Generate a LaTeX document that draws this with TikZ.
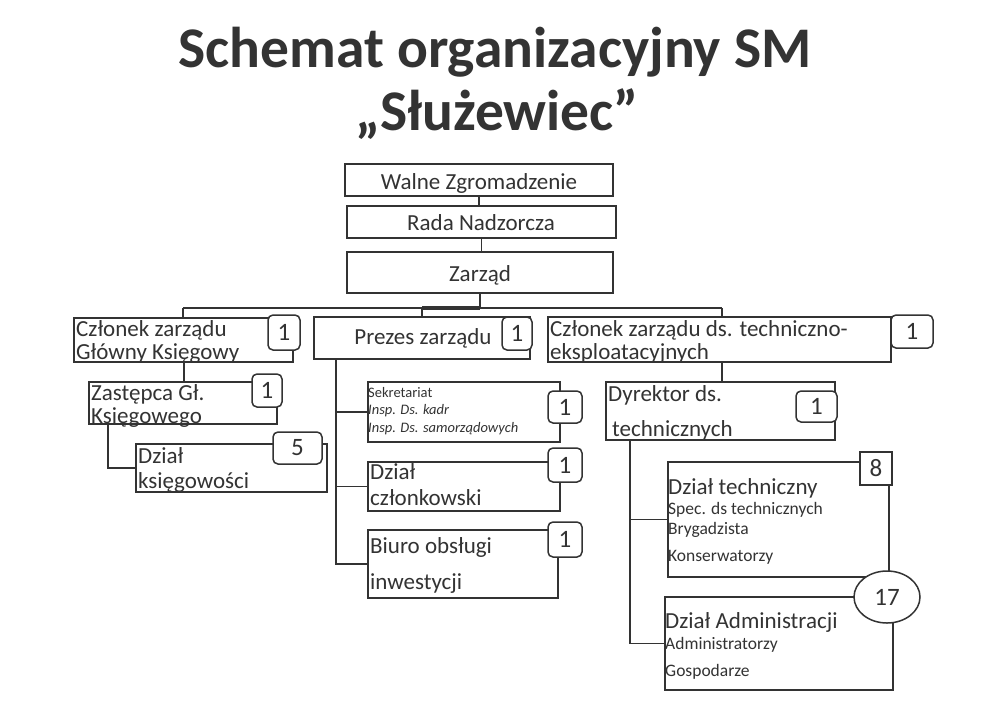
\documentclass[tikz,border=0pt]{standalone}
\usepackage{fontspec}
\setmainfont{Carlito}
\usetikzlibrary{fit,calc,shapes.geometric}
\definecolor{ink}{gray}{0.2}
\tikzset{
  box/.style={draw=ink, line width=1.5pt, inner sep=0pt},
  badge/.style={draw=ink, line width=1.5pt, rounded corners=5pt, fill=white, inner sep=0pt},
  conn/.style={draw=ink, line width=1.5pt},
  lbl/.style={anchor=base west, inner sep=0pt, text=ink, font=\fontsize{23}{25}\selectfont},
  clbl/.style={anchor=base, inner sep=0pt, text=ink, font=\fontsize{23}{25}\selectfont},
  small/.style={anchor=base west, inner sep=0pt, text=ink, font=\fontsize{17.5}{19}\selectfont},
  tiny/.style={anchor=base west, inner sep=0pt, text=ink, font=\fontsize{14.5}{16}\selectfont},
  num/.style={text=ink, font=\fontsize{25}{27}\selectfont},
}
\begin{document}
\begin{tikzpicture}[x=1pt,y=-1pt]
\useasboundingbox (0,0) rectangle (1000,713);
\fill[white] (0,0) rectangle (1000,713);
% title
\node[anchor=base, inner sep=0pt, text=ink, font=\fontsize{57.5}{60}\bfseries] (t1) at (495,67) {Schemat organizacyjny SM};
\node[anchor=base, inner sep=0pt, text=ink, font=\fontsize{57.5}{60}\bfseries] (t2) at (497,130) {„Służewiec”};

% top boxes
\node[box, fit={(345,164) (613,196)}] (wz) {};
\node[clbl] at (479,189) {Walne Zgromadzenie};
\node[box, fit={(347,206) (616,238)}] (rn) {};
\node[clbl] at (481,230) {Rada Nadzorcza};
\node[box, fit={(347,252) (613,293)}] (zr) {};
\node[clbl] at (480,281) {Zarząd};

% level 2
\node[box, fit={(74,318) (293,362)}] (czg) {};
\node[lbl] at (76,336) {Członek zarządu};
\node[lbl] at (76,359) {Główny Księgowy};
\node[badge, fit={(268,315) (300,350)}] (bczg) {};
\node[num] at (bczg.center) {1};

\node[box, fit={(314,317) (530,359)}] (prz) {};
\node[clbl] at (423,344) {Prezes zarządu};
\node[badge, fit={(502,317) (532,350)}] (bprz) {};
\node[num] at (bprz.center) {1};

\node[box, fit={(548,317) (891,362)}] (czt) {};
\node[lbl] at (550,336) {Członek zarządu ds. techniczno-};
\node[lbl] at (550,359) {eksploatacyjnych};
\node[badge, fit={(891,315) (933,348)}] (bczt) {};
\node[num] at (bczt.center) {1};

% left branch
\node[box, fit={(89,382) (277,424)}] (zas) {};
\node[lbl] at (91,400) {Zastępca Gł.};
\node[lbl] at (91,423) {Księgowego};
\node[badge, fit={(252,374) (282,407)}] (bzas) {};
\node[num] at (bzas.center) {1};

\node[box, fit={(136,444) (327,492)}] (dk) {};
\node[lbl] at (138,463) {Dział};
\node[lbl] at (138,488) {księgowości};
\node[badge, fit={(273,432) (322,464)}] (bdk) {};
\node[num] at (bdk.center) {5};

% middle branch
\node[box, fit={(368,382) (560,442)}] (sek) {};
\node[tiny] at (368,397) {Sekretariat};
\node[tiny, font=\fontsize{14.5}{16}\itshape] at (368,414) {Insp. Ds. kadr};
\node[tiny, font=\fontsize{14.5}{16}\itshape] at (368,432) {Insp. Ds. samorządowych};
\node[badge, fit={(548,391) (582,423)}] (bsek) {};
\node[num] at (bsek.center) {1};

\node[box, fit={(368,462) (560,511)}] (dcz) {};
\node[lbl] at (370,479) {Dział};
\node[lbl] at (370,505) {członkowski};
\node[badge, fit={(548,448) (582,482)}] (bdcz) {};
\node[num] at (bdcz.center) {1};

\node[box, fit={(368,530) (558,598)}] (bio) {};
\node[lbl] at (370,553) {Biuro obsługi};
\node[lbl] at (370,589) {inwestycji};
\node[badge, fit={(548,522) (582,557)}] (bbio) {};
\node[num] at (bbio.center) {1};

% right branch
\node[box, fit={(606,382) (835,440)}] (dyr) {};
\node[lbl] at (608,401) {Dyrektor ds.};
\node[lbl] at (612,436) {technicznych};
\node[badge, fit={(796,391) (837,422)}] (bdyr) {};
\node[num] at (bdyr.center) {1};

\node[box, fit={(668,462) (889,577)}] (dt) {};
\node[lbl] at (668,494) {Dział techniczny};
\node[small] at (668,514) {Spec. ds technicznych};
\node[small] at (668,534) {Brygadzista};
\node[small] at (668,561) {Konserwatorzy};
\node[draw=ink, line width=1.5pt, fill=white, inner sep=0pt, fit={(860,452) (892,485)}] (bdt) {};
\node[num] at (bdt.center) {8};

\node[box, fit={(665,597) (893,690)}] (da) {};
\node[lbl] at (665,628) {Dział Administracji};
\node[small] at (665,649) {Administratorzy};
\node[small] at (665,676) {Gospodarze};
\node[draw=ink, line width=1.5pt, fill=white, ellipse, minimum width=66pt, minimum height=52pt, inner sep=0pt] (bda) at (887,597) {};
\node[num] at (bda.center) {17};

% connectors
\coordinate (busL) at (183,308);
\coordinate (busR) at (722,308);
\coordinate (busM) at (422,308);
\coordinate (zk) at (480,308);
\draw[conn] (wz.south) -- (wz.south |- rn.north);
\draw[conn] (rn.south) -- (rn.south |- zr.north);
\draw[conn] (zr.south) -- (zk);
\draw[conn] (busL) -- (busR);
\draw[conn, line width=3.5pt] (busM) -- (zk);
\draw[conn] (busL) -- (busL |- czg.north);
\draw[conn] (busM) -- (busM |- prz.north);
\draw[conn] (busR) -- (busR |- czt.north);

\coordinate (a1) at (184,362);
\draw[conn] (a1) -- (a1 |- zas.north);
\coordinate (a2) at (108,424);
\draw[conn] (a2) |- (dk.west);

\coordinate (m1) at (336,359);
\draw[conn] (m1) |- (bio.west);
\draw[conn] (m1 |- sek.west) -- (sek.west);
\draw[conn] (m1 |- dcz.west) -- (dcz.west);

\coordinate (r1) at (722,362);
\draw[conn] (r1) -- (r1 |- dyr.north);
\coordinate (r2) at (630,440);
\draw[conn] (r2) |- (da.west);
\draw[conn] (r2 |- dt.west) -- (dt.west);
\end{tikzpicture}
\end{document}
